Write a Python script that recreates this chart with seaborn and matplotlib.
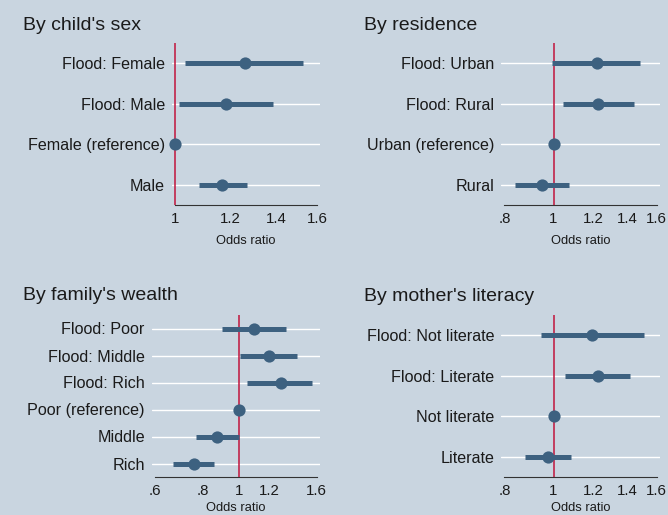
import numpy as np
import pandas as pd
import matplotlib
matplotlib.use("Agg")
import matplotlib.pyplot as plt
import seaborn as sns

# odds ratios with 95% CI
sex_labels = ["Flood: Female", "Flood: Male", "Female (reference)", "Male"]
sex_or = [1.26, 1.185, 1.0, 1.17]
sex_lo = [1.035, 1.015, 1.0, 1.083]
sex_hi = [1.53, 1.385, 1.0, 1.268]

res_labels = ["Flood: Urban", "Flood: Rural", "Urban (reference)", "Rural"]
res_or = [1.217, 1.225, 1.0, 0.949]
res_lo = [0.992, 1.043, 1.0, 0.839]
res_hi = [1.485, 1.44, 1.0, 1.071]

wealth_labels = ["Flood: Poor", "Flood: Middle", "Flood: Rich",
                 "Poor (reference)", "Middle", "Rich"]
wealth_or = [1.093, 1.196, 1.287, 1.0, 0.874, 0.758]
wealth_lo = [0.90, 1.004, 1.05, 1.0, 0.768, 0.669]
wealth_hi = [1.33, 1.42, 1.56, 1.0, 1.0, 0.86]

lit_labels = ["Flood: Not literate", "Flood: Literate", "Not literate", "Literate"]
lit_or = [1.194, 1.225, 1.0, 0.975]
lit_lo = [0.946, 1.054, 1.0, 0.878]
lit_hi = [1.507, 1.419, 1.0, 1.083]

sex_ticks = [1, 1.2, 1.4, 1.6]
sex_ticklabels = ["1", "1.2", "1.4", "1.6"]
res_ticks = [0.8, 1, 1.2, 1.4, 1.6]
res_ticklabels = [".8", "1", "1.2", "1.4", "1.6"]
wealth_ticks = [0.6, 0.8, 1, 1.2, 1.6]
wealth_ticklabels = [".6", ".8", "1", "1.2", "1.6"]
lit_ticks = res_ticks
lit_ticklabels = res_ticklabels

bg = "#c9d5e0"
navy = "#3d6180"
red = "#c0143c"
txt = "#1a1a1a"

sns.set_style("white")
plt.rcParams["font.family"] = ["Liberation Sans", "DejaVu Sans"]

fig = plt.figure(figsize=(6.68, 5.15), dpi=100, facecolor=bg)

# title, data, ticks, axes rect, title position (px), xlabel pad
panels = [
    ("By child's sex", sex_labels, sex_or, sex_lo, sex_hi, sex_ticks, sex_ticklabels,
     [172 / 668, 1 - 205 / 515, 148 / 668, 162 / 515], (23, 29.5), 6.5),
    ("By residence", res_labels, res_or, res_lo, res_hi, res_ticks, res_ticklabels,
     [501.3 / 668, 1 - 205 / 515, 158.7 / 668, 162 / 515], (364, 29.5), 6.5),
    ("By family's wealth", wealth_labels, wealth_or, wealth_lo, wealth_hi, wealth_ticks,
     wealth_ticklabels, [151.7 / 668, 1 - 477 / 515, 168.3 / 668, 162 / 515], (23, 300.5), 3),
    ("By mother's literacy", lit_labels, lit_or, lit_lo, lit_hi, lit_ticks, lit_ticklabels,
     [501.3 / 668, 1 - 477 / 515, 158.7 / 668, 162 / 515], (364, 301), 3),
]

for title, labels, ors, los, his, ticks, ticklabels, rect, tpos, lpad in panels:
    df = pd.DataFrame({"label": labels, "or": ors, "lo": los, "hi": his})
    ax = fig.add_axes(rect)
    ax.set_facecolor(bg)
    ax.set_xscale("log")

    sns.stripplot(data=df, x="or", y="label", jitter=False, size=8.8, color=navy,
                  linewidth=0, zorder=5, clip_on=False, ax=ax)
    ypos = np.arange(len(df))
    ax.hlines(ypos, df["lo"], df["hi"], color=navy, lw=3.6, zorder=4)
    ax.axvline(1, color=red, lw=1.1, zorder=3)

    # a little room either side of the tick range
    lo_t, hi_t = np.log(ticks[0]), np.log(ticks[-1])
    pad = (hi_t - lo_t) * 0.021
    ax.set_xlim(np.exp(lo_t - pad), np.exp(hi_t + pad))
    ax.set_ylim(len(df) - 0.5, -0.5)
    ax.xaxis.set_minor_locator(matplotlib.ticker.NullLocator())
    ax.set_xticks(ticks)
    ax.set_xticklabels(ticklabels)

    ax.yaxis.grid(True, color="white", lw=1.0, zorder=0)
    ax.xaxis.grid(False)
    ax.set_axisbelow(True)
    for s in ["left", "top", "right"]:
        ax.spines[s].set_visible(False)
    ax.spines["bottom"].set_bounds(ticks[0], ticks[-1])
    ax.spines["bottom"].set_color("#333333")
    ax.spines["bottom"].set_linewidth(0.8)

    ax.tick_params(axis="y", length=0, pad=5, labelsize=11.6, labelcolor=txt)
    ax.tick_params(axis="x", which="major", direction="out", length=3.6, width=0.8,
                   color="#333333", pad=1.5, labelsize=10.8, labelcolor=txt)
    ax.set_ylabel("")
    ax.set_xlabel("Odds ratio", fontsize=9.3, color=txt, labelpad=lpad)

    fig.text(tpos[0] / 668, 1 - tpos[1] / 515, title, fontsize=14, color=txt,
             ha="left", va="baseline")

fig.savefig("out.png", dpi=100, facecolor=bg)
plt.close()
